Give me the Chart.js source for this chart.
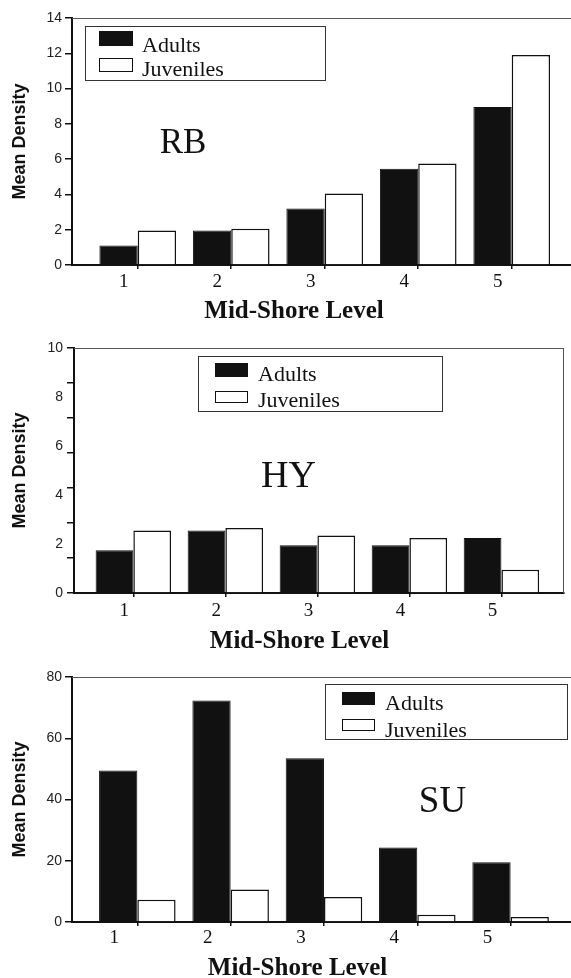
<!DOCTYPE html>
<html>
<head>
<meta charset="utf-8">
<script src="https://cdn.jsdelivr.net/npm/chart.js@4.4.0/dist/chart.umd.min.js"></script>
<style>
  body { margin: 0; background: #fff; }
  canvas { display: block; }
</style>
</head>
<body>
<canvas id="rbChart" width="571" height="325"></canvas>
<canvas id="hyChart" width="571" height="330"></canvas>
<canvas id="suChart" width="571" height="323"></canvas>
<script>
// mid-shore levels on the x axis
const levels = [1, 2, 3, 4, 5];
const levelLabels = ['1', '2', '3', '4', '5'];
const seriesNames = ['Adults', 'Juveniles'];

// RB
const rbAdults = [1.1, 1.95, 3.2, 5.45, 8.95];
const rbJuveniles = [1.95, 2.05, 4.05, 5.75, 11.9];
const rbTicks = [0, 2, 4, 6, 8, 10, 12, 14];

// HY (tick marks on this axis don't line up with the labels)
const hyAdults = [1.75, 2.55, 1.95, 1.95, 2.25];
const hyJuveniles = [2.55, 2.65, 2.35, 2.25, 0.95];
const hyTicks = [0, 2, 4, 6, 8, 10];
const hyMarks = [0, 1.43, 2.86, 4.29, 5.71, 7.14, 8.57, 10];

// SU
const suAdults = [49.5, 72.3, 53.5, 24.3, 19.5];
const suJuveniles = [7.3, 10.6, 8.2, 2.4, 1.6];
const suTicks = [0, 20, 40, 60, 80];

const ink = '#111';
Chart.defaults.font.family = '"Liberation Sans", Arial, sans-serif';

// top/right frame, legend box, site tag and x title
function decor(p) {
    return {
        id: 'decor',
        afterDraw(chart) {
            const ctx = chart.ctx;
            const a = chart.chartArea;
            ctx.save();
            ctx.strokeStyle = '#555';
            ctx.lineWidth = 1;
            ctx.beginPath();
            ctx.moveTo(a.left, a.top + 0.5);
            ctx.lineTo(a.right, a.top + 0.5);
            if (p.rightEdge) {
                ctx.moveTo(a.right - 0.5, a.top);
                ctx.lineTo(a.right - 0.5, a.bottom);
            }
            ctx.stroke();

            const lg = p.legend;
            ctx.strokeStyle = '#333';
            ctx.strokeRect(lg.x + 0.5, lg.y + 0.5, lg.w, lg.h);
            ctx.font = '22px "Liberation Serif", serif';
            ctx.textAlign = 'left';
            ctx.textBaseline = 'alphabetic';
            chart.data.datasets.forEach((ds, i) => {
                const r = lg.rows[i];
                ctx.fillStyle = ds.backgroundColor;
                ctx.fillRect(lg.swX, r.swY, lg.swW, r.swH);
                ctx.strokeStyle = ink;
                ctx.strokeRect(lg.swX + 0.5, r.swY + 0.5, lg.swW - 1, r.swH - 1);
                ctx.fillStyle = ink;
                ctx.fillText(ds.label, lg.textX, r.textY);
            });

            ctx.font = p.tagFont;
            ctx.textAlign = 'center';
            ctx.fillText(p.tag, p.tagX, p.tagY);

            ctx.font = 'bold 25px "Liberation Serif", serif';
            ctx.fillText('Mid-Shore Level', p.titleX, p.titleY);
            ctx.restore();
        }
    };
}

function makePanel(id, p) {
    const canvas = document.getElementById(id);
    const H = canvas.height;
    return new Chart(canvas.getContext('2d'), {
        type: 'bar',
        data: {
            datasets: [
                {
                    label: seriesNames[0],
                    data: levels.map((x, i) => ({ x: x, y: p.adults[i] })),
                    backgroundColor: ink,
                    borderColor: ink,
                    borderWidth: 1
                },
                {
                    label: seriesNames[1],
                    data: levels.map((x, i) => ({ x: x, y: p.juveniles[i] })),
                    backgroundColor: '#ffffff',
                    borderColor: ink,
                    borderWidth: 1.5
                }
            ]
        },
        options: {
            responsive: false,
            animation: false,
            categoryPercentage: 0.82,
            barPercentage: 1.0,
            layout: { padding: { top: p.plotTop, right: p.rightPad, left: 0, bottom: 0 } },
            plugins: { legend: { display: false }, tooltip: { enabled: false } },
            scales: {
                x: {
                    type: 'linear',
                    min: p.xMin,
                    max: p.xMax,
                    offset: false,
                    afterBuildTicks: s => { s.ticks = levels.map(v => ({ value: v })); },
                    afterFit: s => { s.height = H - p.plotBottom; },
                    ticks: {
                        callback: v => levelLabels[levels.indexOf(v)],
                        labelOffset: p.labelOffset,
                        padding: p.tickPad,
                        color: ink,
                        maxRotation: 0,
                        autoSkip: false,
                        font: { family: '"Liberation Serif", serif', size: 19 }
                    },
                    grid: { display: true, offset: false, drawOnChartArea: false, tickLength: 4, color: ink, lineWidth: 1.5 },
                    border: { display: true, color: ink, width: 2 }
                },
                // tick marks only
                y: {
                    position: 'left',
                    weight: 0,
                    min: 0,
                    max: p.yMax,
                    afterBuildTicks: s => { s.ticks = p.marks.map(v => ({ value: v })); },
                    afterFit: s => { s.width = 7; },
                    ticks: { display: false },
                    grid: { display: true, drawOnChartArea: false, tickLength: 7, color: ink, lineWidth: 1.5 },
                    border: { display: true, color: ink, width: 2 }
                },
                // labels and title
                yl: {
                    position: 'left',
                    weight: 1,
                    min: 0,
                    max: p.yMax,
                    afterBuildTicks: s => { s.ticks = p.yTicks.map(v => ({ value: v })); },
                    afterFit: s => { s.width = p.axisLeft - 7; },
                    ticks: { padding: p.labelPad, color: '#222', font: { size: 14 } },
                    grid: { display: false, drawTicks: false },
                    border: { display: false },
                    title: {
                        display: true,
                        text: 'Mean Density',
                        color: ink,
                        padding: { top: 9, bottom: 0 },
                        font: { size: 18, weight: 'bold' }
                    }
                }
            }
        },
        plugins: [decor(p)]
    });
}

makePanel('rbChart', {
    adults: rbAdults, juveniles: rbJuveniles, yTicks: rbTicks, marks: rbTicks, yMax: 14,
    plotTop: 18, plotBottom: 265, axisLeft: 72, rightPad: 0, labelPad: 3,
    xMin: 0.297, xMax: 5.634, labelOffset: -14, tickPad: 2,
    rightEdge: false,
    legend: { x: 85, y: 26, w: 240, h: 54, swX: 99, swW: 34, textX: 142,
        rows: [{ swY: 31, swH: 15, textY: 51.5 }, { swY: 58, swH: 14, textY: 75.5 }] },
    tag: 'RB', tagFont: '35px "Liberation Serif", serif', tagX: 183, tagY: 153,
    titleX: 294, titleY: 318
});

makePanel('hyChart', {
    adults: hyAdults, juveniles: hyJuveniles, yTicks: hyTicks, marks: hyMarks, yMax: 10,
    plotTop: 23, plotBottom: 268, axisLeft: 74, rightPad: 7, labelPad: 4,
    xMin: 0.355, xMax: 5.68, labelOffset: -9, tickPad: 3,
    rightEdge: true,
    legend: { x: 198, y: 31, w: 244, h: 55, swX: 215, swW: 33, textX: 258,
        rows: [{ swY: 38, swH: 14, textY: 55.5 }, { swY: 66, swH: 12, textY: 82 }] },
    tag: 'HY', tagFont: '38px "Liberation Serif", serif', tagX: 288.5, tagY: 162,
    titleX: 299.5, titleY: 323
});

makePanel('suChart', {
    adults: suAdults, juveniles: suJuveniles, yTicks: suTicks, marks: suTicks, yMax: 80,
    plotTop: 22, plotBottom: 267, axisLeft: 72, rightPad: 0, labelPad: 3,
    xMin: 0.30, xMax: 5.647, labelOffset: -23, tickPad: 1,
    rightEdge: false,
    legend: { x: 325, y: 29, w: 242, h: 55, swX: 342, swW: 33, textX: 385,
        rows: [{ swY: 37, swH: 13, textY: 55 }, { swY: 64, swH: 12, textY: 82 }] },
    tag: 'SU', tagFont: '37px "Liberation Serif", serif', tagX: 442.5, tagY: 157,
    titleX: 297.5, titleY: 320
});
</script>
</body>
</html>
